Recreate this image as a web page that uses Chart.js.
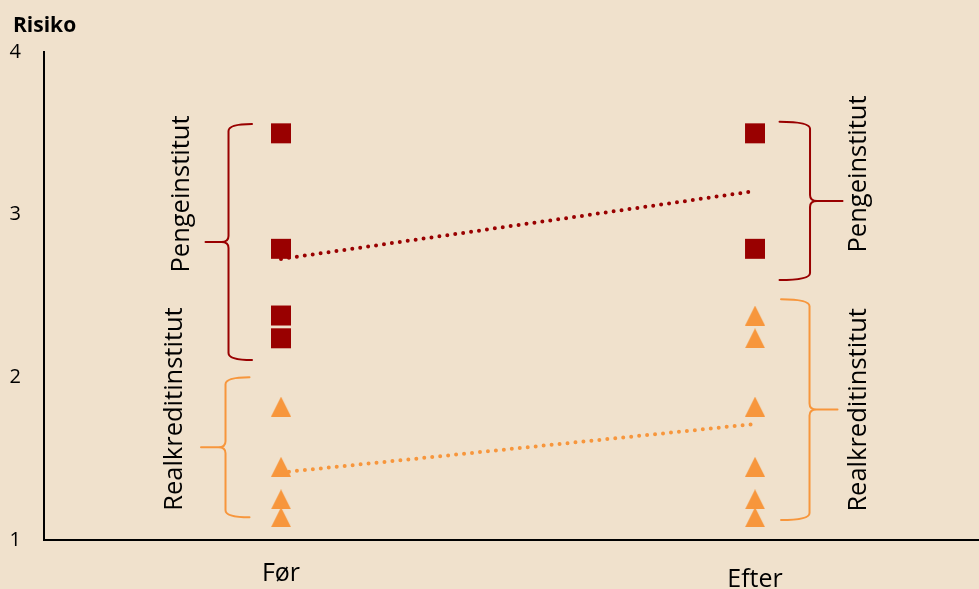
<!DOCTYPE html>
<html lang="da">
<head>
<meta charset="utf-8">
<title>Risiko før og efter</title>
<script src="https://cdn.jsdelivr.net/npm/chart.js@4/dist/chart.umd.min.js"></script>
<style>
  html, body { margin: 0; padding: 0; background: #F0E1CC; }
  #wrap { position: relative; width: 979px; height: 589px; }
</style>
</head>
<body>
<div id="wrap"><canvas id="chart"></canvas></div>
<script>
// Groups on the x axis and where they sit on the linear scale
const groups = ['Før', 'Efter'];
const groupX = [1, 3];
const yTicks = [1, 2, 3, 4];

// Risk scores per institution type
const pengeFoer = [3.5, 2.79, 2.38, 2.24];
const pengeEfter = [3.5, 2.79];
const realFoer = [1.82, 1.45, 1.25, 1.14];
const realEfter = [2.38, 2.24, 1.82, 1.45, 1.25, 1.14];

const RED = '#990000';
const ORANGE = '#F7963C';
const FONT = '"Open Sans", "DejaVu Sans", sans-serif';

const mean = a => a.reduce((s, v) => s + v, 0) / a.length;
const points = (x, vals) => vals.map(v => ({ x, y: v }));

// Triangle marker as a small canvas (as tall as it is wide)
function triangleMarker(color, size) {
  const c = document.createElement('canvas');
  c.width = size; c.height = size;
  const g = c.getContext('2d');
  g.fillStyle = color;
  g.beginPath();
  g.moveTo(size / 2, 0);
  g.lineTo(size, size);
  g.lineTo(0, size);
  g.closePath();
  g.fill();
  return c;
}
const tri = triangleMarker(ORANGE, 20);

// Curly brackets with their rotated captions (value range + pixel offsets from the group)
const braces = [
  { group: 0, side: -1, from: 2.107, to: 3.557, arm: 29,   spine: 52.5, tip: 75.5, color: RED,    text: 'Pengeinstitut',      textAt: 3.127, textGap: 92.5 },
  { group: 0, side: -1, from: 1.14,  to: 2.0,   arm: 31.5, spine: 55.5, tip: 80,   color: ORANGE, text: 'Realkreditinstitut', textAt: 1.805, textGap: 99.5 },
  { group: 1, side: 1,  from: 2.598, to: 3.571, arm: 24.5, spine: 55,   tip: 87.5, color: RED,    text: 'Pengeinstitut',      textAt: 3.25,  textGap: 111.2 },
  { group: 1, side: 1,  from: 1.123, to: 2.48,  arm: 26,   spine: 54.5, tip: 82.5, color: ORANGE, text: 'Realkreditinstitut', textAt: 1.80,  textGap: 111.2 }
];

const bracePlugin = {
  id: 'braces',
  afterDraw(chart) {
    const { ctx, scales: { x, y } } = chart;
    ctx.save();
    // axis caption
    ctx.fillStyle = '#000';
    ctx.font = 'bold 21px ' + FONT;
    ctx.textAlign = 'left';
    ctx.textBaseline = 'alphabetic';
    ctx.fillText('Risiko', 13, 32);

    braces.forEach(b => {
      const cx = x.getPixelForValue(groupX[b.group]);
      const s = b.side;
      const xe = cx + s * b.arm, xv = cx + s * b.spine, xt = cx + s * b.tip;
      const yTop = y.getPixelForValue(b.to);
      const yBot = y.getPixelForValue(b.from);
      const yMid = (yTop + yBot) / 2;
      ctx.strokeStyle = b.color;
      ctx.lineWidth = 2;
      ctx.lineJoin = 'round';
      ctx.lineCap = 'round';
      ctx.beginPath();
      ctx.moveTo(xe, yTop);
      ctx.quadraticCurveTo(xv, yTop, xv, yTop + 7);
      ctx.lineTo(xv, yMid - 6);
      ctx.quadraticCurveTo(xv, yMid, xv + s * 7, yMid);
      ctx.lineTo(xt, yMid);
      ctx.lineTo(xv + s * 7, yMid);
      ctx.quadraticCurveTo(xv, yMid, xv, yMid + 6);
      ctx.lineTo(xv, yBot - 7);
      ctx.quadraticCurveTo(xv, yBot, xe, yBot);
      ctx.stroke();

      ctx.save();
      ctx.translate(cx + s * b.textGap, y.getPixelForValue(b.textAt));
      ctx.rotate(-Math.PI / 2);
      ctx.fillStyle = '#000';
      ctx.font = '25.5px ' + FONT;
      ctx.textAlign = 'center';
      ctx.textBaseline = 'alphabetic';
      ctx.fillText(b.text, 0, 0);
      ctx.restore();
    });
    ctx.restore();
  }
};

const trendStyle = {
  showLine: true, pointRadius: 0, pointHoverRadius: 0,
  borderWidth: 4, borderDash: [0, 8], borderCapStyle: 'round', fill: false
};

new Chart(document.getElementById('chart'), {
  type: 'scatter',
  data: {
    datasets: [
      { label: 'Pengeinstitut', data: points(groupX[0], pengeFoer).concat(points(groupX[1], pengeEfter)),
        pointStyle: 'rect', pointRadius: 14.14, pointHoverRadius: 14.14, borderWidth: 0,
        backgroundColor: RED, borderColor: RED },
      { label: 'Realkreditinstitut', data: points(groupX[0], realFoer).concat(points(groupX[1], realEfter)),
        pointStyle: tri, pointRadius: 10, pointHoverRadius: 10,
        backgroundColor: ORANGE, borderColor: ORANGE },
      Object.assign({ label: 'Gns. pengeinstitut', borderColor: RED, backgroundColor: RED,
        data: [{ x: groupX[0], y: mean(pengeFoer) }, { x: groupX[1], y: mean(pengeEfter) }] }, trendStyle),
      Object.assign({ label: 'Gns. realkreditinstitut', borderColor: ORANGE, backgroundColor: ORANGE,
        data: [{ x: groupX[0], y: mean(realFoer) }, { x: groupX[1], y: mean(realEfter) }] }, trendStyle)
    ]
  },
  options: {
    responsive: true,
    maintainAspectRatio: false,
    animation: false,
    events: [],
    layout: { autoPadding: false, padding: { top: 52, right: 0, left: 0, bottom: 0 } },
    plugins: { legend: { display: false }, tooltip: { enabled: false }, title: { display: false } },
    scales: {
      x: {
        type: 'linear', min: 0, max: 3.945,
        grid: { color: 'transparent', drawTicks: false },
        border: { display: true, color: '#000', width: 2 },
        afterBuildTicks: s => { s.ticks = groupX.map(v => ({ value: v })); },
        afterFit: s => { s.height = 49; s.paddingLeft = 0; s.paddingRight = 0; },
        ticks: {
          padding: 19, color: '#000', maxRotation: 0, autoSkip: false,
          font: c => ({ family: FONT, size: 25, lineHeight: c.index === 1 ? 1.68 : 1.2 }),
          callback: v => groups[groupX.indexOf(v)]
        }
      },
      y: {
        min: 1, max: 4,
        grid: { color: 'transparent', drawTicks: false },
        border: { display: true, color: '#000', width: 2 },
        afterBuildTicks: s => { s.ticks = yTicks.map(v => ({ value: v })); },
        afterFit: s => { s.width = 44; s.paddingTop = 0; s.paddingBottom = 0; },
        ticks: { padding: 23, color: '#000', font: { family: FONT, size: 20 } }
      }
    }
  },
  plugins: [bracePlugin]
});
</script>
</body>
</html>
